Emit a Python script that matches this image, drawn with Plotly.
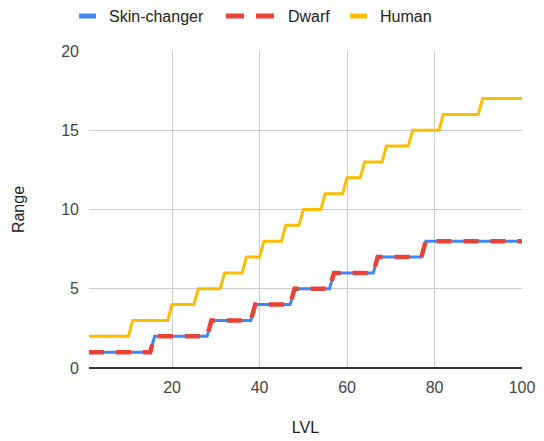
import plotly.graph_objects as go

# Corner points of each step curve (LVL, Range)
skin_lvl = [1, 15, 16, 28, 29, 38, 39, 47, 48, 56, 57, 66, 67, 77, 78, 100]
skin_range = [1, 1, 2, 2, 3, 3, 4, 4, 5, 5, 6, 6, 7, 7, 8, 8]

dwarf_lvl = [1, 15, 16, 28, 29, 38, 39, 47, 48, 56, 57, 66, 67, 77, 78, 100]
dwarf_range = [1, 1, 2, 2, 3, 3, 4, 4, 5, 5, 6, 6, 7, 7, 8, 8]

human_lvl = [1, 10, 11, 19, 20, 25, 26, 31, 32, 36, 37, 40, 41, 45, 46, 49, 50,
             54, 55, 59, 60, 63, 64, 68, 69, 74, 75, 81, 82, 90, 91, 100]
human_range = [2, 2, 3, 3, 4, 4, 5, 5, 6, 6, 7, 7, 8, 8, 9, 9, 10,
               10, 11, 11, 12, 12, 13, 13, 14, 14, 15, 15, 16, 16, 17, 17]

x_ticks = [20, 40, 60, 80, 100]
y_ticks = [0, 5, 10, 15, 20]

FONT = "Arial, 'Liberation Sans', sans-serif"
W, H = 544, 441
ML, MR, MT, MB = 89, 22, 51, 73
PW, PH = W - ML - MR, H - MT - MB

series = [
    dict(name="Skin-changer", x=skin_lvl, y=skin_range, color="#4285F4", width=3, dash="solid"),
    dict(name="Dwarf", x=dwarf_lvl, y=dwarf_range, color="#EA4335", width=4.5, dash="15px,12px"),
    dict(name="Human", x=human_lvl, y=human_range, color="#FBBC04", width=3, dash="solid"),
]

fig = go.Figure()
for s in series:
    fig.add_trace(go.Scatter(
        x=s["x"], y=s["y"], name=s["name"], mode="lines", showlegend=False,
        line=dict(color=s["color"], width=s["width"], dash=s["dash"]),
    ))


# Legend row above the plot, laid out in pixels and converted to paper units
def px(x):
    return (x - ML) / PW


def py(y):
    return (H - MB - y) / PH


legend_y = 16
legend_items = [
    ("Skin-changer", "#4285F4", [(79, 96)], 107),
    ("Dwarf", "#EA4335", [(226, 244), (256, 274)], 286),
    ("Human", "#FBBC04", [(350, 367)], 378),
]
for label, color, segs, text_x in legend_items:
    for x0, x1 in segs:
        fig.add_shape(type="line", xref="paper", yref="paper",
                      x0=px(x0), x1=px(x1), y0=py(legend_y), y1=py(legend_y),
                      line=dict(color=color, width=5))
    fig.add_annotation(text=label, xref="paper", yref="paper",
                       x=px(text_x), y=py(legend_y), xanchor="left", yanchor="middle",
                       showarrow=False, font=dict(size=16, color="#222222", family=FONT))

fig.update_layout(
    width=W, height=H,
    margin=dict(l=ML, r=MR, t=MT, b=MB, autoexpand=False),
    paper_bgcolor="white", plot_bgcolor="white",
    font=dict(family=FONT, size=16, color="#222222"),
    showlegend=False,
    xaxis=dict(
        range=[1, 100], tickvals=x_ticks, showgrid=True, gridcolor="#cccccc",
        gridwidth=1, zeroline=False, showline=False, ticklabelstandoff=8,
        automargin=False,
        tickfont=dict(size=16, color="#444444"),
        title=dict(text="LVL", standoff=26, font=dict(size=16, color="#222222")),
    ),
    yaxis=dict(
        range=[0, 20], tickvals=y_ticks, showgrid=True, gridcolor="#cccccc",
        gridwidth=1, zeroline=True, zerolinecolor="#333333", zerolinewidth=1.5,
        showline=False, ticklabelstandoff=9, automargin=False,
        tickfont=dict(size=16, color="#444444"),
        title=dict(text="Range", standoff=32, font=dict(size=16, color="#222222")),
    ),
)

fig.write_html("out.html")
